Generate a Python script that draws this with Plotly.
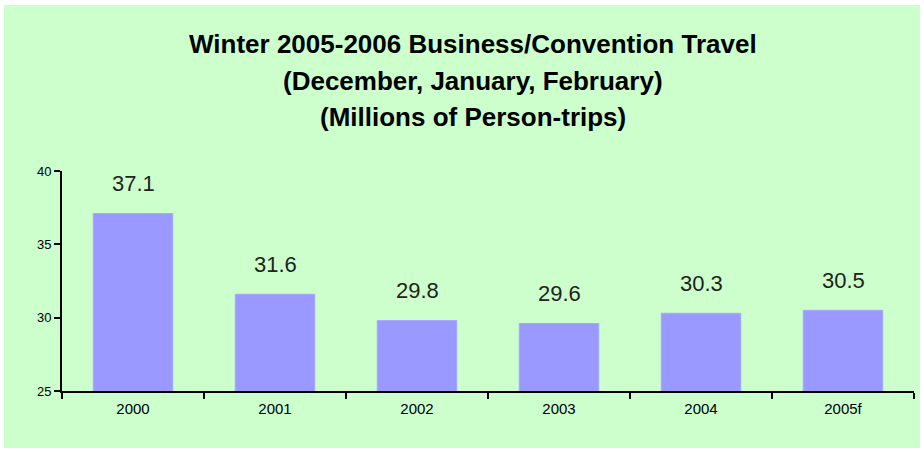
import plotly.graph_objects as go

categories = ["2000", "2001", "2002", "2003", "2004", "2005f"]
values = [37.1, 31.6, 29.8, 29.6, 30.3, 30.5]
labels = ["37.1", "31.6", "29.8", "29.6", "30.3", "30.5"]
y_ticks = [25, 30, 35, 40]

L, R, T, B = 62, 924 - 914, 171, 452 - 391
W, H = 924, 452
pw, ph = W - L - R, H - T - B

def px_to_paper_x(px):
    return (px - L) / pw

def px_to_paper_y(py):
    return (H - B - py) / ph

fig = go.Figure()
fig.add_trace(go.Bar(
    x=categories, y=values,
    marker=dict(color="#9999FF", line=dict(color="#A8A8FF", width=1)),
    width=0.56,
    hoverinfo="skip",
))

for i, (v, t) in enumerate(zip(values, labels)):
    fig.add_annotation(x=i, y=v, xref="x", yref="y", text=t, showarrow=False, yanchor="middle",
                       yshift=30, font=dict(family="Liberation Sans", size=22, color="#222222"))

fig.add_shape(type="rect", xref="paper", yref="paper",
              x0=px_to_paper_x(4), x1=px_to_paper_x(920),
              y0=px_to_paper_y(448), y1=px_to_paper_y(5),
              fillcolor="#CCFFCC", line=dict(width=0), layer="below")

title_lines = ["Winter 2005-2006 Business/Convention Travel",
               "(December, January, February)",
               "(Millions of Person-trips)"]
for i, line in enumerate(title_lines):
    fig.add_annotation(xref="paper", yref="paper", x=px_to_paper_x(473), y=px_to_paper_y(44 + 36.5 * i),
                       text="<b>" + line + "</b>", showarrow=False, xanchor="center", yanchor="middle",
                       font=dict(family="Liberation Sans", size=26, color="#000000"))

fig.update_layout(
    width=W, height=H,
    margin=dict(l=L, r=R, t=T, b=B, pad=0),
    paper_bgcolor="white",
    plot_bgcolor="rgba(0,0,0,0)",
    showlegend=False,
    bargap=0.44,
)
fig.update_xaxes(type="category", range=[-0.5, len(categories) - 0.5],
                 showline=True, linecolor="black", linewidth=2, ticks="outside",
                 tickson="boundaries", ticklen=6, tickcolor="black", tickwidth=2,
                 showgrid=False, zeroline=False, tickangle=0, ticklabelstandoff=3,
                 tickfont=dict(family="Liberation Sans", size=15, color="#000000"))
fig.update_yaxes(range=[25, 40], tickvals=y_ticks, showline=True, linecolor="black", linewidth=2,
                 ticks="outside", ticklen=6, tickcolor="black", tickwidth=2,
                 showgrid=False, zeroline=False,
                 tickfont=dict(family="Liberation Sans", size=13, color="#000000"))

fig.write_html("out.html", config={"displayModeBar": False},
               post_script="document.body.style.margin='0';document.body.style.overflow='hidden';")
